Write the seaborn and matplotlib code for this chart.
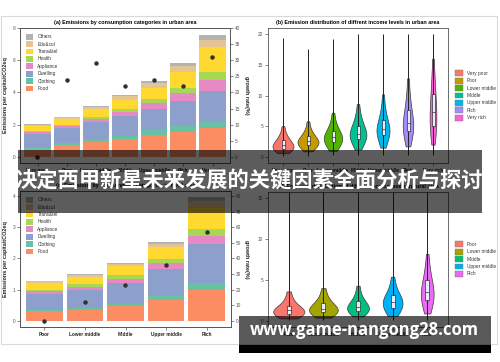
import numpy as np
import pandas as pd
import matplotlib
matplotlib.use("Agg")
import matplotlib.pyplot as plt
from matplotlib.patches import Patch, Rectangle
import seaborn as sns

plt.rcParams["font.family"] = ["Liberation Sans", "DejaVu Sans"]

W, H = 500, 362

# ---------------- data ----------------
components = ["Food", "Clothing", "Dwelling", "Appliance", "Health", "Trans&tel", "Edu&cul", "Others"]
comp_colors = ["#FC8D62", "#66C2A5", "#8DA0CB", "#E78AC3", "#A6D854", "#FFD92F", "#E5C494", "#B3B3B3"]

urban_levels = ["Very poor", "Poor", "Lower middle", "Middle", "Upper middle", "Rich", "Very rich"]
urban_food      = [0.50, 0.75, 0.90, 1.10, 1.35, 1.55, 1.80]
urban_clothing  = [0.10, 0.10, 0.20, 0.20, 0.30, 0.35, 0.45]
urban_dwelling  = [0.85, 0.95, 1.05, 1.25, 1.35, 1.60, 1.85]
urban_appliance = [0.10, 0.12, 0.20, 0.25, 0.35, 0.45, 0.65]
urban_health    = [0.05, 0.08, 0.15, 0.15, 0.25, 0.35, 0.55]
urban_trans     = [0.30, 0.35, 0.45, 0.60, 0.70, 1.00, 1.50]
urban_edu       = [0.10, 0.10, 0.15, 0.20, 0.30, 0.35, 0.45]
urban_others    = [0.05, 0.05, 0.08, 0.10, 0.10, 0.15, 0.30]
urban_growth    = [0, 24, 29, 22, 24, 22, 31]

rural_levels = ["Poor", "Lower middle", "Middle", "Upper middle", "Rich"]
rural_food      = [0.30, 0.36, 0.48, 0.66, 1.00]
rural_clothing  = [0.05, 0.05, 0.06, 0.13, 0.22]
rural_dwelling  = [0.50, 0.57, 0.66, 0.86, 1.23]
rural_appliance = [0.10, 0.10, 0.15, 0.19, 0.27]
rural_health    = [0.05, 0.10, 0.12, 0.13, 0.21]
rural_trans     = [0.20, 0.22, 0.28, 0.40, 0.67]
rural_edu       = [0.06, 0.06, 0.06, 0.10, 0.25]
rural_others    = [0.03, 0.03, 0.03, 0.05, 0.11]
rural_growth    = [0, 12, 23, 36, 57]

urban_pal = ["#F8766D", "#C49A00", "#53B400", "#00C094", "#00B6EB", "#A58AFF", "#FB61D7"]
rural_pal = ["#F8766D", "#A3A500", "#00BF7D", "#00B0F6", "#E76BF3"]

# representative emission values (body of each violin)
urban_vals = {
    "Very poor":    [0.6, 0.8, 1.0, 1.15, 1.3, 1.42, 1.55, 1.67, 1.8, 1.93, 2.07, 2.22, 2.4, 2.6, 2.85, 3.15, 3.5, 4.0, 5.0],
    "Poor":         [0.9, 1.2, 1.45, 1.65, 1.9, 2.05, 2.18, 2.3, 2.4, 2.52, 2.65, 2.8, 3.0, 3.2, 3.45, 3.75, 4.1, 4.7, 5.8],
    "Lower middle": [1.0, 1.4, 1.7, 1.95, 2.3, 2.5, 2.68, 2.85, 3.0, 3.17, 3.35, 3.55, 3.8, 4.05, 4.35, 4.7, 5.2, 5.9, 7.2],
    "Middle":       [1.2, 1.7, 2.1, 2.45, 2.8, 3.05, 3.25, 3.43, 3.6, 3.8, 4.05, 4.3, 4.6, 4.9, 5.25, 5.7, 6.3, 7.1, 8.6],
    "Upper middle": [1.5, 2.1, 2.55, 2.95, 3.4, 3.65, 3.9, 4.1, 4.3, 4.55, 4.8, 5.1, 5.4, 5.8, 6.2, 6.8, 7.5, 8.5, 10.2],
    "Rich":         [1.7, 2.4, 2.9, 3.45, 4.0, 4.35, 4.65, 4.95, 5.2, 5.5, 5.85, 6.3, 6.8, 7.3, 7.9, 8.6, 9.5, 10.8, 12.8],
    "Very rich":    [2.0, 2.9, 3.5, 4.2, 4.8, 5.3, 5.8, 6.3, 6.8, 7.3, 7.8, 8.5, 9.2, 9.9, 10.7, 11.6, 12.7, 14.0, 16.0],
}
urban_min = [0.1, 0.1, 0.3, 0.3, 0.3, 0.3, 0.3]
urban_max = [19.3, 17.5, 19.2, 20.0, 20.0, 20.0, 20.0]

rural_vals = {
    "Poor":         [0.3, 0.45, 0.55, 0.68, 0.8, 0.9, 0.98, 1.08, 1.2, 1.28, 1.38, 1.48, 1.6, 1.75, 1.92, 2.15, 2.45, 2.9, 3.6],
    "Lower middle": [0.4, 0.55, 0.7, 0.85, 1.0, 1.1, 1.2, 1.3, 1.4, 1.5, 1.62, 1.75, 1.9, 2.05, 2.25, 2.5, 2.8, 3.3, 4.0],
    "Middle":       [0.55, 0.75, 0.9, 1.05, 1.2, 1.3, 1.4, 1.5, 1.6, 1.72, 1.84, 1.97, 2.1, 2.27, 2.47, 2.72, 3.05, 3.55, 4.3],
    "Upper middle": [0.6, 0.85, 1.05, 1.28, 1.5, 1.68, 1.85, 2.02, 2.2, 2.35, 2.5, 2.65, 2.8, 3.0, 3.25, 3.55, 3.95, 4.5, 5.4],
    "Rich":         [0.9, 1.25, 1.55, 1.95, 2.4, 2.65, 2.9, 3.1, 3.3, 3.55, 3.8, 4.1, 4.4, 4.75, 5.15, 5.6, 6.2, 7.0, 8.2],
}
rural_min = [0.05, 0.05, 0.05, 0.05, 0.1]
rural_max = [15.7, 15.7, 15.7, 15.7, 15.7]

title_a = "(a) Emissions by consumption categories in urban area"
title_b = "(b) Emission distribution of diffrent income levels in urban area"
title_c = "(c) Emissions by consumption categories in rural area"
title_d = "(d) Emission distribution of diffrent income levels in rural area"
ylabel_left = "Emissions per capita/tCO2eq"
ylabel_right = "growth rate(%)"
banner_text = "决定西甲新星未来发展的关键因素全面分析与探讨"
url_text = "www.game-nangong28.com"

# violin drawing widths (style)
urban_widths = [0.84, 0.84, 0.74, 0.67, 0.52, 0.42, 0.27]
rural_widths = [0.9, 0.83, 0.63, 0.57, 0.37]

# ---------------- helpers ----------------
def rect(x0, y0, x1, y1):
    return [x0 / W, 1 - y1 / H, (x1 - x0) / W, (y1 - y0) / H]

TFS = 3.4
def style_axes(ax):
    for s in ax.spines.values():
        s.set_color("#555555")
        s.set_linewidth(0.6)
    ax.tick_params(axis="both", length=2, width=0.5, color="#555555", pad=1.5, labelsize=TFS)
    ax.tick_params(axis="y", labelcolor="#555555")
    ax.tick_params(axis="x", labelcolor="#222222")
    for lab in ax.get_xticklabels():
        lab.set_fontweight("bold")
    ax.set_xlabel("")

def make_legend(target, handles, **kw):
    return target.legend(handles=handles, frameon=False, fontsize=3.4, handlelength=1.55,
                         handleheight=1.5, labelspacing=0.35, handletextpad=0.9,
                         labelcolor="#333333", **kw)

def stacked_panel(fig, r, levels, layers, growth, right_mult, yticks_l, yticks_r, title):
    ax = fig.add_axes(rect(*r))
    cum = np.cumsum(np.array(layers), axis=0)
    for i in range(len(components) - 1, -1, -1):
        sns.barplot(x=levels, y=cum[i], order=levels, color=comp_colors[i], saturation=1,
                    width=0.9, linewidth=0, errorbar=None, ax=ax)
    total = cum[-1].max()
    lo, hi = -0.05 * total, total * 1.05
    ax.set_ylim(lo, hi)
    ax.set_xlim(-0.6, len(levels) - 0.4)
    ax.set_yticks(yticks_l)
    ax.set_ylabel(ylabel_left, fontsize=4.0, fontweight="bold", labelpad=3, color="#222222")
    style_axes(ax)
    ax.set_title(title, fontsize=3.9, fontweight="bold", pad=3)
    ax2 = ax.twinx()
    sns.stripplot(x=levels, y=growth, order=levels, jitter=False, color="#303030", size=3.2, ax=ax2)
    ax2.set_ylim(lo * right_mult, hi * right_mult)
    ax2.set_xlim(-0.6, len(levels) - 0.4)
    ax2.set_yticks(yticks_r)
    ax2.set_ylabel(ylabel_right, fontsize=4.0, fontweight="bold", rotation=270, labelpad=6, color="#222222")
    style_axes(ax2)
    handles = [Patch(facecolor=comp_colors[i], edgecolor="none", label=components[i])
               for i in range(len(components) - 1, -1, -1)]
    make_legend(ax, handles, loc="upper left", bbox_to_anchor=(0.01, 0.985), borderpad=0.3)
    return ax

def violin_panel(fig, r, levels, vals, pal, widths, vmin, vmax, ylim, yticks, title, leg_y):
    ax = fig.add_axes(rect(*r))
    df = pd.DataFrame([(k, v) for k in levels for v in vals[k]], columns=["level", "value"])
    for i, lev in enumerate(levels):
        sns.violinplot(data=df[df["level"] == lev], x="level", y="value", order=levels,
                       color=pal[i], saturation=1, inner=None, cut=0, density_norm="width",
                       width=widths[i], linewidth=0.5, linecolor="#3a3a3a", ax=ax)
    ax.vlines(range(len(levels)), vmin, vmax, color="#222222", linewidth=0.7, zorder=3)
    sns.boxplot(data=df, x="level", y="value", order=levels, width=0.12, color="#E6EEF7",
                saturation=1, showfliers=False, whis=0, showcaps=False, linewidth=0.45,
                linecolor="#222222", ax=ax, zorder=4)
    ax.set_ylim(*ylim)
    ax.set_xlim(-0.6, len(levels) - 0.4)
    ax.set_yticks(yticks)
    ax.set_ylabel("")
    style_axes(ax)
    ax.set_title(title, fontsize=3.9, fontweight="bold", pad=3)
    handles = [Patch(facecolor=pal[i], edgecolor="#777777", linewidth=0.3, label=levels[i])
               for i in range(len(levels))]
    make_legend(fig, handles, loc="upper left", bbox_to_anchor=(453 / W, 1 - leg_y / H), borderpad=0.0)
    return ax

# ---------------- figure ----------------
fig = plt.figure(figsize=(W / 100, H / 100), dpi=100)
fig.patch.set_facecolor("white")
fig.patches.append(Rectangle((1 / W, 1 - 344 / H), 496 / W, 328 / H, transform=fig.transFigure,
                             fill=False, edgecolor="#d9d9d9", linewidth=0.8))

urban_layers = [urban_food, urban_clothing, urban_dwelling, urban_appliance,
                urban_health, urban_trans, urban_edu, urban_others]
rural_layers = [rural_food, rural_clothing, rural_dwelling, rural_appliance,
                rural_health, rural_trans, rural_edu, rural_others]

stacked_panel(fig, (20, 28, 230, 163), urban_levels, urban_layers, urban_growth, 5,
              [0, 2, 4, 6, 8], list(range(0, 41, 5)), title_a)
stacked_panel(fig, (20, 191, 231, 327), rural_levels, rural_layers, rural_growth, 20,
              [0, 1, 2, 3, 4], list(range(0, 81, 10)), title_c)
violin_panel(fig, (268, 28, 448, 163), urban_levels, urban_vals, urban_pal, urban_widths,
             urban_min, urban_max, (-1, 21), [0, 5, 10, 15, 20], title_b, 68)
violin_panel(fig, (268, 192, 448, 327), rural_levels, rural_vals, rural_pal, rural_widths,
             rural_min, rural_max, (-0.75, 15.75), [0, 5, 10, 15], title_d, 239)

# overlay banners
fig.patches.append(Rectangle((18 / W, 1 - 213 / H), 464 / W, 63 / H, transform=fig.transFigure,
                             facecolor="black", alpha=0.64, edgecolor="none", zorder=10))
fig.text(249 / W, 1 - 181 / H, banner_text, ha="center", va="center", color="white",
         fontsize=15.3, fontweight="bold", family=["Noto Sans CJK SC", "DejaVu Sans"], zorder=11)
fig.patches.append(Rectangle((239 / W, 1 - 345 / H), 252 / W, 29 / H, transform=fig.transFigure,
                             facecolor="black", alpha=0.65, edgecolor="none", zorder=10))
fig.patches.append(Rectangle((239 / W, 1 - 353 / H), 252 / W, 8 / H, transform=fig.transFigure,
                             facecolor="black", edgecolor="none", zorder=10))
fig.text(364 / W, 1 - 330 / H, url_text, ha="center", va="center", color="white",
         fontsize=12, fontweight="bold", family=["Open Sans", "DejaVu Sans"], zorder=11)

fig.savefig("out.png", dpi=100, facecolor="white")
